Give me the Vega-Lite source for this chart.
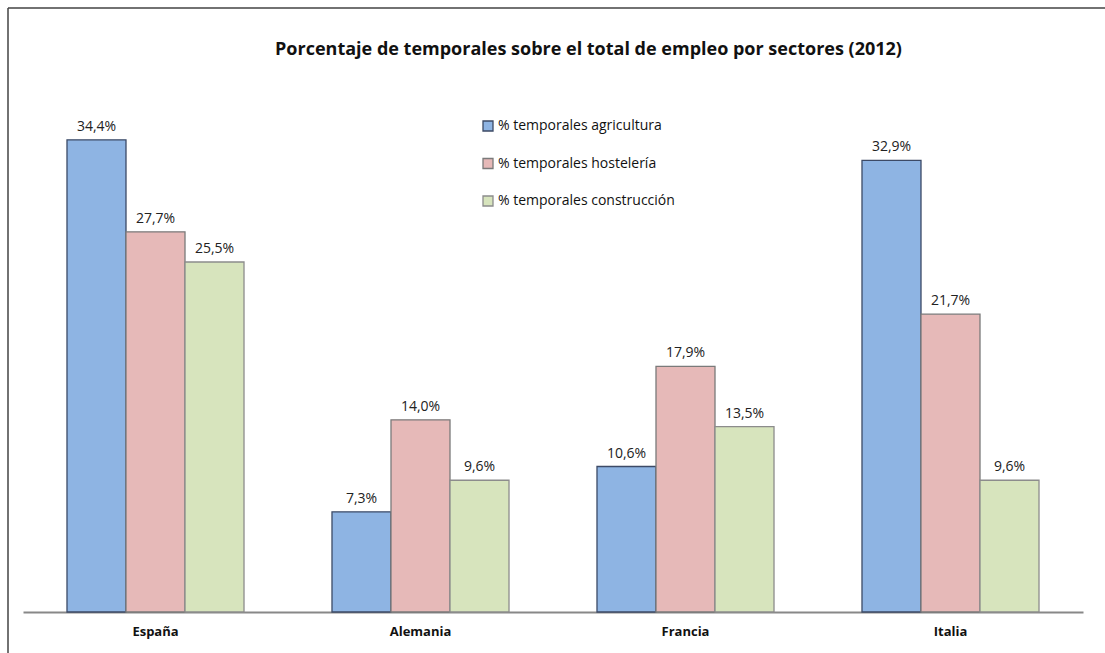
{
  "$schema": "https://vega.github.io/schema/vega-lite/v6.json",
  "width": 1097,
  "height": 645,
  "autosize": {"type": "none"},
  "padding": {"left": 8, "top": 8, "right": 0, "bottom": 0},
  "background": "white",
  "config": {
    "locale": {"number": {"decimal": ",", "thousands": ".", "grouping": [3], "currency": ["", " €"]}},
    "view": {"stroke": "#444", "strokeWidth": 1.5, "strokeDash": [1097, 1742, 645, 0]},
    "font": "Open Sans"
  },
  "title": {
    "text": "Porcentaje de temporales sobre el total de empleo por sectores (2012)",
    "font": "Open Sans",
    "fontSize": 18,
    "fontWeight": "bold",
    "color": "#111",
    "anchor": "middle",
    "frame": "group",
    "dx": 32,
    "offset": -60,
    "baseline": "middle"
  },
  "data": {
    "values": [
      {"pais": "España", "sector": "% temporales agricultura", "valor": 0.344},
      {"pais": "España", "sector": "% temporales hostelería", "valor": 0.277},
      {"pais": "España", "sector": "% temporales construcción", "valor": 0.255},
      {"pais": "Alemania", "sector": "% temporales agricultura", "valor": 0.073},
      {"pais": "Alemania", "sector": "% temporales hostelería", "valor": 0.140},
      {"pais": "Alemania", "sector": "% temporales construcción", "valor": 0.096},
      {"pais": "Francia", "sector": "% temporales agricultura", "valor": 0.106},
      {"pais": "Francia", "sector": "% temporales hostelería", "valor": 0.179},
      {"pais": "Francia", "sector": "% temporales construcción", "valor": 0.135},
      {"pais": "Italia", "sector": "% temporales agricultura", "valor": 0.329},
      {"pais": "Italia", "sector": "% temporales hostelería", "valor": 0.217},
      {"pais": "Italia", "sector": "% temporales construcción", "valor": 0.096}
    ]
  },
  "encoding": {
    "x": {
      "field": "pais",
      "type": "nominal",
      "sort": ["España", "Alemania", "Francia", "Italia"],
      "scale": {"range": [15, 1075], "paddingInner": 0.332, "paddingOuter": 0.166},
      "axis": {
        "title": null,
        "orient": "bottom",
        "offset": -41,
        "labelAngle": 0,
        "ticks": false,
        "tickSize": 0,
        "domainColor": "#888",
        "domainWidth": 2,
        "labelFont": "Open Sans",
        "labelFontSize": 13,
        "labelFontWeight": "bold",
        "labelColor": "#111",
        "labelPadding": 13,
        "grid": false
      }
    },
    "xOffset": {
      "field": "sector",
      "type": "nominal",
      "sort": ["% temporales agricultura", "% temporales hostelería", "% temporales construcción"]
    },
    "y": {
      "field": "valor",
      "type": "quantitative",
      "scale": {"domain": [0, 0.4], "range": [604, 55], "nice": false, "zero": true},
      "axis": null
    }
  },
  "layer": [
    {
      "mark": {"type": "bar", "strokeWidth": 1.3},
      "encoding": {
        "color": {
          "field": "sector",
          "type": "nominal",
          "scale": {
            "domain": ["% temporales agricultura", "% temporales hostelería", "% temporales construcción"],
            "range": ["#8eb4e3", "#e6b9b8", "#d7e4bd"]
          },
          "legend": {
            "title": null,
            "orient": "none",
            "legendX": 473,
            "legendY": 111,
            "direction": "vertical",
            "symbolType": "square",
            "symbolSize": 100,
            "symbolStrokeWidth": 1.3,
            "rowPadding": 21.5,
            "labelFont": "Open Sans",
            "labelFontSize": 14,
            "labelLimit": 400,
            "labelColor": "#111",
            "labelOffset": 3,
            "padding": 0
          }
        },
        "stroke": {
          "field": "sector",
          "type": "nominal",
          "scale": {
            "domain": ["% temporales agricultura", "% temporales hostelería", "% temporales construcción"],
            "range": ["#3c4a66", "#7a7a7a", "#8c8c8c"]
          },
          "legend": null
        }
      }
    },
    {
      "mark": {"type": "text", "baseline": "bottom", "dy": -6, "fontSize": 14, "font": "Open Sans", "color": "#222"},
      "encoding": {
        "text": {"field": "valor", "type": "quantitative", "format": ".1%"}
      }
    }
  ]
}
